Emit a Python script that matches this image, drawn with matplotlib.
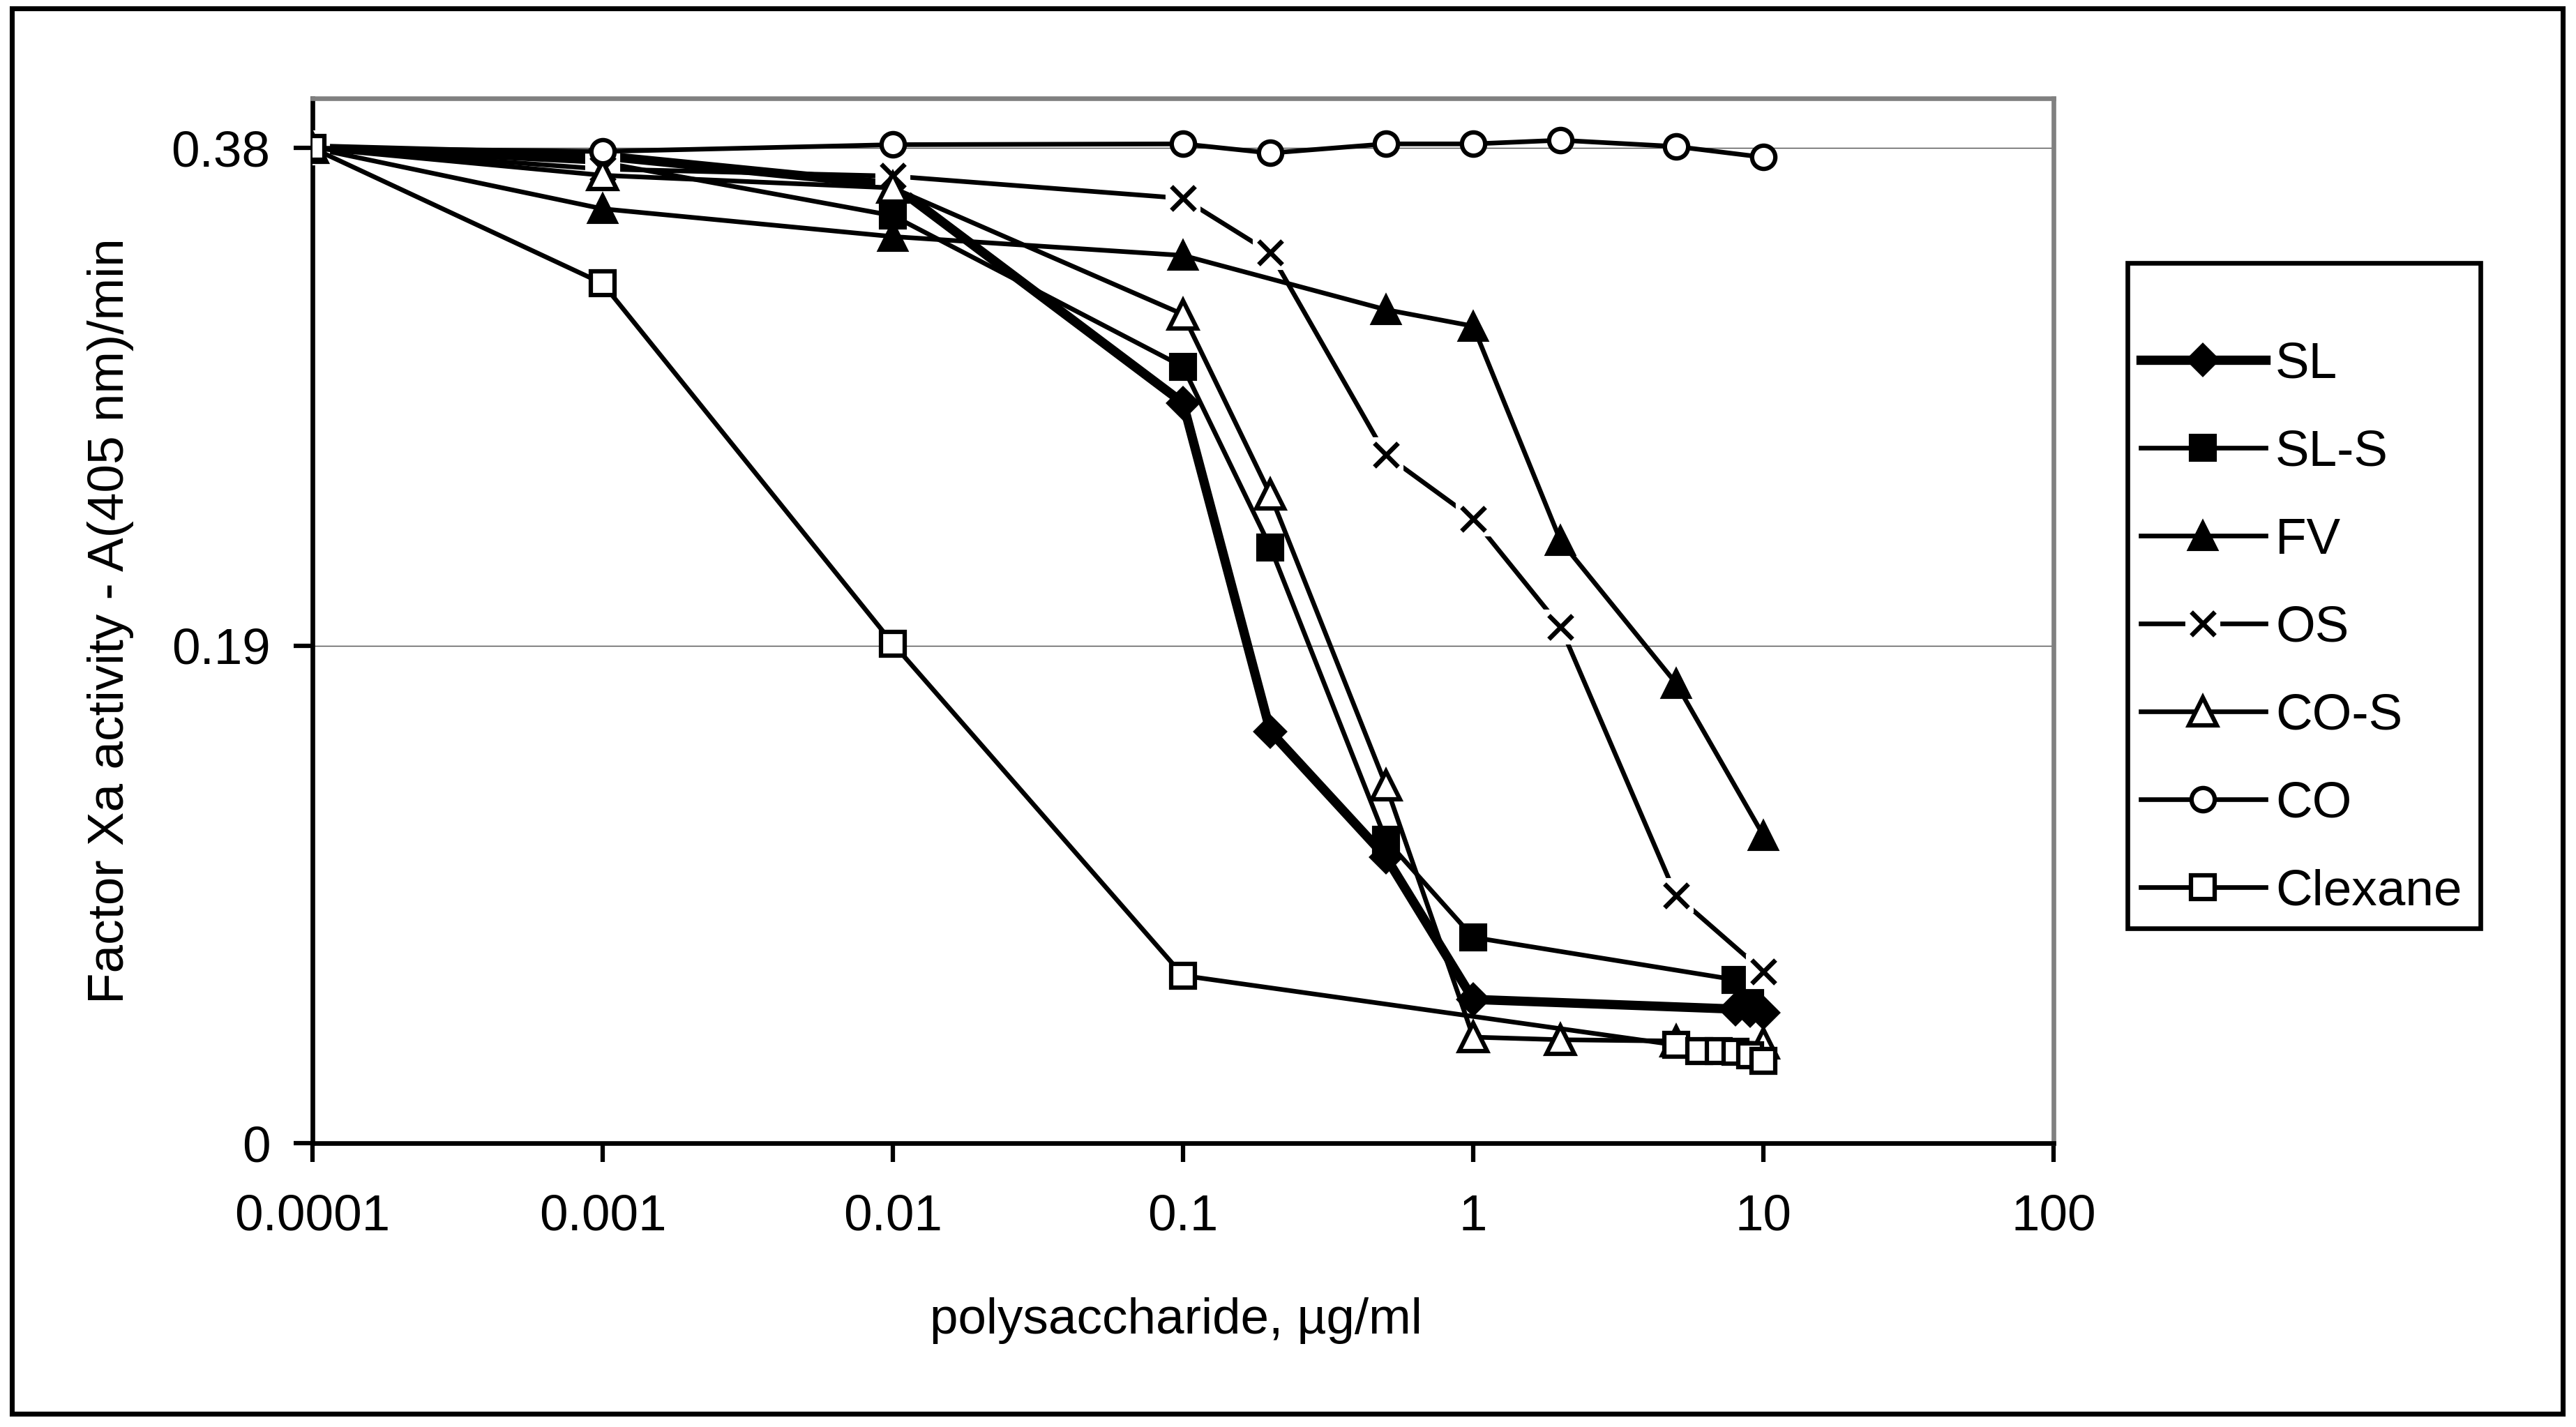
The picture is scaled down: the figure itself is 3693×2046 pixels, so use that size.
import matplotlib
matplotlib.use("Agg")
import matplotlib.pyplot as plt
from matplotlib.patches import Rectangle
from matplotlib.ticker import FixedLocator, NullLocator

plt.rcParams["font.family"] = ["Liberation Sans", "DejaVu Sans"]

# concentrations (ug/ml) and Factor Xa activity for each polysaccharide
x_sl = [0.0001, 0.001, 0.01, 0.1, 0.2, 0.5, 1, 8, 9, 10]
sl = [0.380, 0.377, 0.366, 0.2827, 0.1572, 0.1093, 0.0549, 0.0512, 0.0505, 0.0498]

x_sls = [0.0001, 0.001, 0.01, 0.1, 0.2, 0.5, 1, 8, 9]
sls = [0.380, 0.3745, 0.3542, 0.2965, 0.2276, 0.1159, 0.0786, 0.0624, 0.0550]

x_fv = [0.0001, 0.001, 0.01, 0.1, 0.5, 1, 2, 5, 10]
fv = [0.380, 0.3568, 0.3462, 0.339, 0.3183, 0.312, 0.230, 0.1756, 0.1175]

x_os = [0.0001, 0.001, 0.01, 0.1, 0.2, 0.5, 1, 2, 5, 10]
os_ = [0.380, 0.372, 0.3693, 0.3608, 0.340, 0.2628, 0.2385, 0.1972, 0.0946, 0.0655]

x_cos = [0.0001, 0.001, 0.01, 0.1, 0.2, 0.5, 1, 2, 5, 10]
cos = [0.380, 0.3696, 0.3648, 0.3165, 0.2476, 0.1367, 0.0405, 0.0395, 0.039, 0.038]

x_co = [0.0001, 0.001, 0.01, 0.1, 0.2, 0.5, 1, 2, 5, 10]
co = [0.380, 0.3787, 0.3813, 0.3816, 0.3781, 0.3816, 0.3816, 0.383, 0.3806, 0.3765]

x_clex = [0.0001, 0.001, 0.01, 0.1, 5, 6, 7, 8, 9, 10]
clex = [0.380, 0.3283, 0.1908, 0.064, 0.0375, 0.0352, 0.0352, 0.0350, 0.0335, 0.0315]

x_ticks = [0.0001, 0.001, 0.01, 0.1, 1, 10, 100]
x_ticklabels = ["0.0001", "0.001", "0.01", "0.1", "1", "10", "100"]
y_ticks = [0, 0.19, 0.38]
y_ticklabels = ["0", "0.19", "0.38"]

FS = 17.5
LW = 1.6

fig = plt.figure(figsize=(12.31, 6.82), dpi=300)
ax = fig.add_axes([0.1213, 0.1989, 0.7972 - 0.1213, 0.9311 - 0.1989])

ax.set_xscale("log")
ax.set_xlim(0.0001, 100)
ax.set_ylim(0, 0.399)

for yv in y_ticks[1:]:
    ax.axhline(yv, color="#555555", lw=0.35, zorder=0.5)

l_sl, = ax.plot(x_sl, sl, color="black", lw=3.2, marker="D", ms=7.4,
                mfc="black", mec="black", label="SL", zorder=2)
l_sls, = ax.plot(x_sls, sls, color="black", lw=LW, marker="s", ms=8.5,
                 mfc="black", mec="black", mew=1, label="SL-S", zorder=3)
l_fv, = ax.plot(x_fv, fv, color="black", lw=LW, marker="^", ms=9.8,
                mfc="black", mec="black", mew=1, label="FV", zorder=4)
# OS markers sit on a white box that hides the lines under them
l_os_box, = ax.plot(x_os, os_, color="black", lw=LW, marker="s", ms=11,
                    mfc="white", mec="white", zorder=5)
l_os, = ax.plot(x_os, os_, ls="none", marker="x", ms=8, mew=1.6,
                color="black", zorder=5.1)
l_cos, = ax.plot(x_cos, cos, color="black", lw=LW, marker="^", ms=9.8,
                 mfc="white", mec="black", mew=1.5, label="CO-S", zorder=6)
l_co, = ax.plot(x_co, co, color="black", lw=LW, marker="o", ms=8,
                mfc="white", mec="black", mew=1.5, label="CO", zorder=7)
l_clex, = ax.plot(x_clex, clex, color="black", lw=LW, marker="s", ms=8,
                  mfc="white", mec="black", mew=1.5, label="Clexane", zorder=8)

ax.xaxis.set_major_locator(FixedLocator(x_ticks))
ax.xaxis.set_minor_locator(NullLocator())
ax.set_xticklabels(x_ticklabels)
ax.set_yticks(y_ticks)
ax.set_yticklabels(y_ticklabels)
ax.tick_params(axis="both", direction="out", length=6.5, width=1.5,
               labelsize=FS, color="black")
ax.tick_params(axis="x", pad=11)
ax.tick_params(axis="y", pad=8)

for side in ["left", "bottom"]:
    ax.spines[side].set_color("black")
    ax.spines[side].set_linewidth(LW)
for side in ["top", "right"]:
    ax.spines[side].set_color("#808080")
    ax.spines[side].set_linewidth(LW)

ax.set_ylabel("Factor Xa activity - A(405 nm)/min", fontsize=FS)
ax.yaxis.label.set_va("center")
ax.yaxis.set_label_coords(-0.116, 0.5)
ax.set_xlabel("polysaccharide, \u00b5g/ml", fontsize=FS)
ax.xaxis.label.set_va("center")
ax.xaxis.set_label_coords(0.496, -0.17)

handles = [l_sl, l_sls, l_fv, (l_os_box, l_os), l_cos, l_co, l_clex]
labels = ["SL", "SL-S", "FV", "OS", "CO-S", "CO", "Clexane"]
fig.legend(handles, labels, loc="upper left",
           bbox_to_anchor=(0.831, 0.7607), frameon=False,
           fontsize=FS, handlelength=2.45, handletextpad=0.2,
           labelspacing=0.81, borderpad=0, borderaxespad=0)

# legend box
fig.add_artist(Rectangle((0.8259, 0.3495), 0.9629 - 0.8259, 0.8157 - 0.3495,
                         transform=fig.transFigure, fill=False,
                         edgecolor="black", lw=1.6))

# chart border
fig.add_artist(Rectangle((0.0046, 0.0093), 0.9949 - 0.0046, 0.9941 - 0.0093,
                         transform=fig.transFigure, fill=False,
                         edgecolor="black", lw=1.7))

fig.savefig("out.png", dpi=300, facecolor="white")
